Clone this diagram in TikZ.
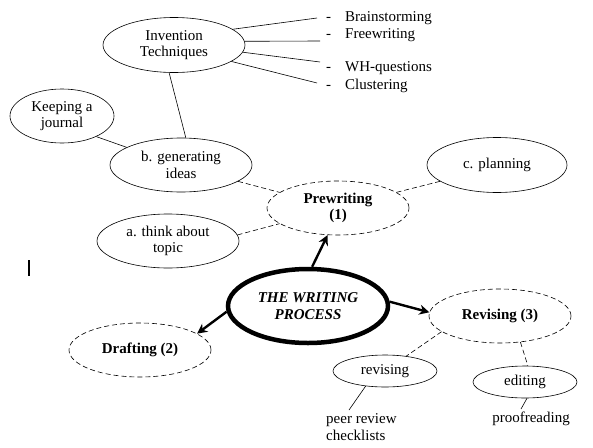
\documentclass[tikz,border=0pt]{standalone}
\usepackage{fontspec}
\setmainfont{Liberation Serif}
\usetikzlibrary{shapes.geometric,arrows.meta}
\begin{document}
\begin{tikzpicture}[x=1pt,y=-1pt,
  every node/.style={font=\fontsize{15}{16.5}\selectfont},
  ell/.style={ellipse,draw,line width=0.6pt,inner sep=0pt,align=center,minimum width=142pt,minimum height=54pt},
  smallell/.style={ellipse,draw,line width=0.6pt,inner sep=0pt,align=center,minimum width=104pt,minimum height=32pt},
  dell/.style={ell,dash pattern=on 5pt off 3pt,font=\fontsize{15}{16.5}\selectfont\bfseries},
  thin/.style={line width=0.6pt},
  dline/.style={line width=0.6pt,dash pattern=on 5pt off 3pt},
  bigarrow/.style={line width=2.4pt,-{Stealth[length=10pt,width=10pt]}},
  item/.style={anchor=west,inner sep=0pt}
]
\useasboundingbox (0,0) rectangle (593,447);

% ellipses
\node[ell,minimum height=55pt] (inv) at (174,45) {Invention\\Techniques};
\node[ell,minimum width=104pt] (keep) at (62,116) {Keeping a\\journal};
\node[ell] (gen) at (181,165) {b. generating\\ideas};
\node[ell,minimum width=140pt,minimum height=55pt] (plan) at (497,165) {c. planning};
\node[dell] (pre) at (338,208) {Prewriting\\(1)};
\node[ell] (think) at (168,241) {a. think about\\topic};
\node[ellipse,draw,line width=4.5pt,inner sep=0pt,minimum width=160pt,minimum height=74pt,align=center,font=\fontsize{15}{17}\selectfont\bfseries\itshape] (main) at (308,306) {THE WRITING\\PROCESS};
\node[dell] (draft) at (140,350) {Drafting (2)};
\node[dell] (rev) at (500,316) {Revising (3)};
\node[smallell] (revs) at (385,371) {revising};
\node[smallell] (edit) at (525,382) {editing};

% list items
\node[item] (i1) at (326,18) {-\hskip 14pt Brainstorming};
\node[item] (i2) at (326,35) {-\hskip 14pt Freewriting};
\node[item] (i3) at (326,68) {-\hskip 14pt WH-questions};
\node[item] (i4) at (326,86) {-\hskip 14pt Clustering};
\coordinate (e1) at (317,18);
\coordinate (e2) at (320,41);
\coordinate (e3) at (320,62);
\coordinate (e4) at (317,83);

% bottom texts
\node[anchor=west,align=left,inner sep=0pt] (peer) at (326,427) {peer review\\checklists};
\node[inner sep=0pt] (proof) at (531,419) {proofreading};
\coordinate (pe) at (349,410);
\coordinate (pr) at (521,409);

% solid connectors
\draw[thin] (inv.15) -- (e1);
\draw[thin] (inv.3) -- (e2);
\draw[thin] (inv.-6) -- (e3);
\draw[thin] (inv.-16) -- (e4);
\draw[thin] (inv.-100) -- (gen.80);
\draw[thin] (keep.-31) -- (gen.162);
\draw[thin] (revs.-142) -- (pe);
\draw[thin] (edit.-83) -- (pr);

% dashed connectors
\draw[dline] (gen.-16) -- (pre.165);
\draw[dline] (plan.196) -- (pre.15);
\draw[dline] (think.5) -- (pre.195);
\draw[dline] (rev.195) -- (revs.35);
\draw[dline] (rev.-52) -- (edit.80);

% arrows
\draw[bigarrow] (main.84) -- (pre.249);
\draw[bigarrow] (main.184) -- (draft.16);
\draw[bigarrow] (main.3) -- (rev.177);

% stray bar
\draw[line width=1.5pt] (29,260) -- (29,276);
\end{tikzpicture}
\end{document}
